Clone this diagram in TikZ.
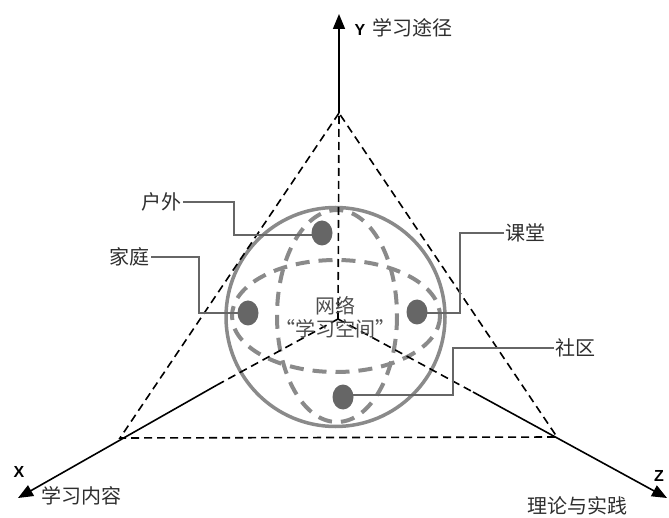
\documentclass[tikz,border=0pt]{standalone}
\usepackage{fontspec}
\setmainfont{Liberation Sans}
\newfontfamily\cjk{Noto Sans CJK SC}
\usetikzlibrary{arrows.meta}
\definecolor{sgray}{HTML}{8A8A8A}
\definecolor{dgray}{HTML}{666666}
\definecolor{tgray}{HTML}{2E2E2E}
\tikzset{
  lab/.style={font=\cjk\fontsize{20}{23}\selectfont, text=tgray, inner sep=1pt},
  axlab/.style={font=\bfseries\fontsize{16}{18}\selectfont, inner sep=0pt},
  axisline/.style={line width=1.6pt, -{Triangle[width=12pt,length=15pt]}},
  guide/.style={line width=1.6pt, dash pattern=on 8pt off 5pt},
  sphere/.style={draw=sgray, line width=3.5pt},
  meridian/.style={draw=sgray, line width=4pt, dash pattern=on 14pt off 9pt},
  leader/.style={draw=dgray, line width=1.6pt},
}
\begin{document}
\begin{tikzpicture}[x=1pt,y=-1pt]
\useasboundingbox (0,0) rectangle (669,518);
% key points
\coordinate (O) at (338,319);
\coordinate (apex) at (339,113);
\coordinate (L) at (120,438);
\coordinate (R) at (557,437);
\coordinate (xs) at (217,385);
\coordinate (zs) at (473,392);
\coordinate (ytip) at (339,14);
\coordinate (xtip) at (18,498);
\coordinate (ztip) at (667,498);
% sphere
\draw[sphere] (335.5,317) circle (109.5);
\draw[meridian] (336,316) ellipse (104 and 56);
\draw[meridian] (337,316) ellipse (60 and 106);
% dashed guides
\draw[guide] (apex) -- (L) -- (R) -- cycle;
\draw[guide] (O) -- (apex);
\draw[guide] (O) -- (xs);
\draw[guide] (O) -- (zs);
% axes
\draw[axisline] (apex) -- (ytip);
\draw[axisline] (xs) -- (xtip);
\draw[axisline] (zs) -- (ztip);
% spots
\fill[dgray] (322,233) ellipse (10.5 and 12.5);
\fill[dgray] (248,313) ellipse (10.5 and 12.5);
\fill[dgray] (417,312) ellipse (10.5 and 12.5);
\fill[dgray] (343,397) ellipse (10.5 and 12.5);
\coordinate (c1) at (322,235);
\coordinate (c2) at (248,313);
\coordinate (c3) at (417,313);
\coordinate (c4) at (343,395);
% labels
\node[lab, anchor=east] (huwai) at (183,202) {户外};
\node[lab, anchor=east] (jiating) at (151,257) {家庭};
\node[lab, anchor=west] (ketang) at (504,233) {课堂};
\node[lab, anchor=west] (shequ) at (554,348) {社区};
\draw[leader] (huwai.east) -- (234,202) |- (c1);
\draw[leader] (jiating.east) -- (199,257) |- (c2);
\draw[leader] (ketang.west) -- (460,233) |- (c3);
\draw[leader] (shequ.west) -- (453,348) |- (c4);
% centre text
\node[lab, align=center, font=\cjk\fontsize{20}{23}\selectfont, text=tgray!85] (net) at (335,317) {网络\\“学习空间”};
% axis labels
\node[axlab] (Y) at (360,30) {Y};
\node[lab, anchor=west] (ylab) at (371,28) {学习途径};
\node[axlab] (X) at (19,472) {X};
\node[lab, anchor=west] (xlab) at (40,496) {学习内容};
\node[axlab] (Z) at (659,476) {Z};
\node[lab] (zlab) at (577,506) {理论与实践};
\end{tikzpicture}
\end{document}
